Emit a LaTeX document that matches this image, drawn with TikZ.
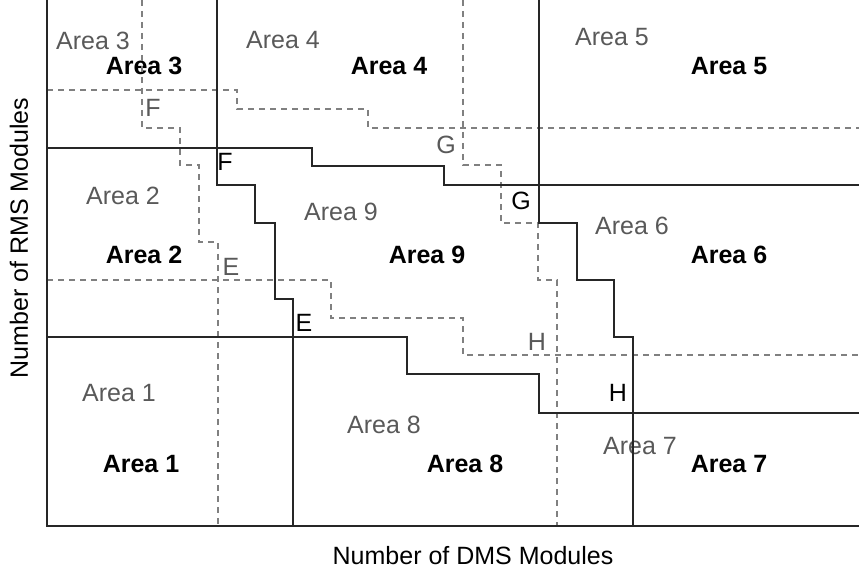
\documentclass[tikz,border=0pt]{standalone}
\usepackage{fontspec}
\setmainfont{Liberation Sans}

\begin{document}
\begin{tikzpicture}[x=1pt, y=-1pt,
  axisline/.style={line width=2.2pt, draw=black!85},
  boundary/.style={line width=1.8pt, draw=black!85},
  oldboundary/.style={line width=1.4pt, draw=black!50, dash pattern=on 6pt off 5pt},
  oldlabel/.style={text=black!65, font=\fontsize{25}{29}\selectfont, inner sep=0pt},
  newlabel/.style={text=black, font=\fontsize{25}{29}\selectfont\bfseries, inner sep=0pt},
  axislabel/.style={text=black, font=\fontsize{25}{29}\selectfont, inner sep=0pt}]
  \useasboundingbox (0,0) rectangle (859,575);

  % Old area labels (grey)
  \node[oldlabel] (old1) at (119,393) {Area 1};
  \node[oldlabel] (old2) at (123,196) {Area 2};
  \node[oldlabel] (old3) at (93,41) {Area 3};
  \node[oldlabel] (old4) at (283,40) {Area 4};
  \node[oldlabel] (old5) at (612,37) {Area 5};
  \node[oldlabel] (old6) at (632,226) {Area 6};
  \node[oldlabel] (old7) at (640,446) {Area 7};
  \node[oldlabel] (old8) at (384,425) {Area 8};
  \node[oldlabel] (old9) at (341,212) {Area 9};

  % New area labels (bold)
  \node[newlabel] (new1) at (141,464) {Area 1};
  \node[newlabel] (new2) at (144,255) {Area 2};
  \node[newlabel] (new3) at (144,66) {Area 3};
  \node[newlabel] (new4) at (389,66) {Area 4};
  \node[newlabel] (new5) at (729,66) {Area 5};
  \node[newlabel] (new6) at (729,255) {Area 6};
  \node[newlabel] (new7) at (729,464) {Area 7};
  \node[newlabel] (new8) at (465,464) {Area 8};
  \node[newlabel] (new9) at (427,255) {Area 9};

  % Corner letters
  \node[oldlabel] (oldE) at (231,267) {E};
  \node[oldlabel] (oldF) at (153,108) {F};
  \node[oldlabel] (oldG) at (446,145) {G};
  \node[oldlabel] (oldH) at (537,342) {H};
  \node[axislabel] (newE) at (304,323) {E};
  \node[axislabel] (newF) at (225,162) {F};
  \node[axislabel] (newG) at (521,201) {G};
  \node[axislabel] (newH) at (618,393) {H};

  % Old boundaries (dashed)
  \draw[oldboundary] (142,0) -- (142,128) -- (180,128) -- (180,165) -- (199,165)
    -- (199,242) -- (218,242) -- (218,526);
  \draw[oldboundary] (47,90) -- (237,90) -- (237,109) -- (368,109) -- (368,128) -- (859,128);
  \draw[oldboundary] (463,0) -- (463,165) -- (501,165) -- (501,223) -- (538,223)
    -- (538,280) -- (557,280) -- (557,526);
  \draw[oldboundary] (47,280) -- (331,280) -- (331,318) -- (463,318) -- (463,355) -- (859,355);

  % New boundaries (solid)
  \draw[boundary] (217,0) -- (217,185) -- (255,185) -- (255,223) -- (275,223)
    -- (275,299) -- (293,299) -- (293,526);
  \draw[boundary] (47,148) -- (312,148) -- (312,166) -- (444,166) -- (444,185) -- (859,185);
  \draw[boundary] (539,0) -- (539,223) -- (577,223) -- (577,280) -- (614,280)
    -- (614,337) -- (633,337) -- (633,526);
  \draw[boundary] (47,337) -- (407,337) -- (407,374) -- (539,374) -- (539,413) -- (859,413);

  % Axes
  \draw[axisline] (47,0) -- (47,526) -- (859,526);
  \node[axislabel] (xlabel) at (473,556) {Number of DMS Modules};
  \node[axislabel, rotate=90] (ylabel) at (19,238) {Number of RMS Modules};
\end{tikzpicture}
\end{document}
